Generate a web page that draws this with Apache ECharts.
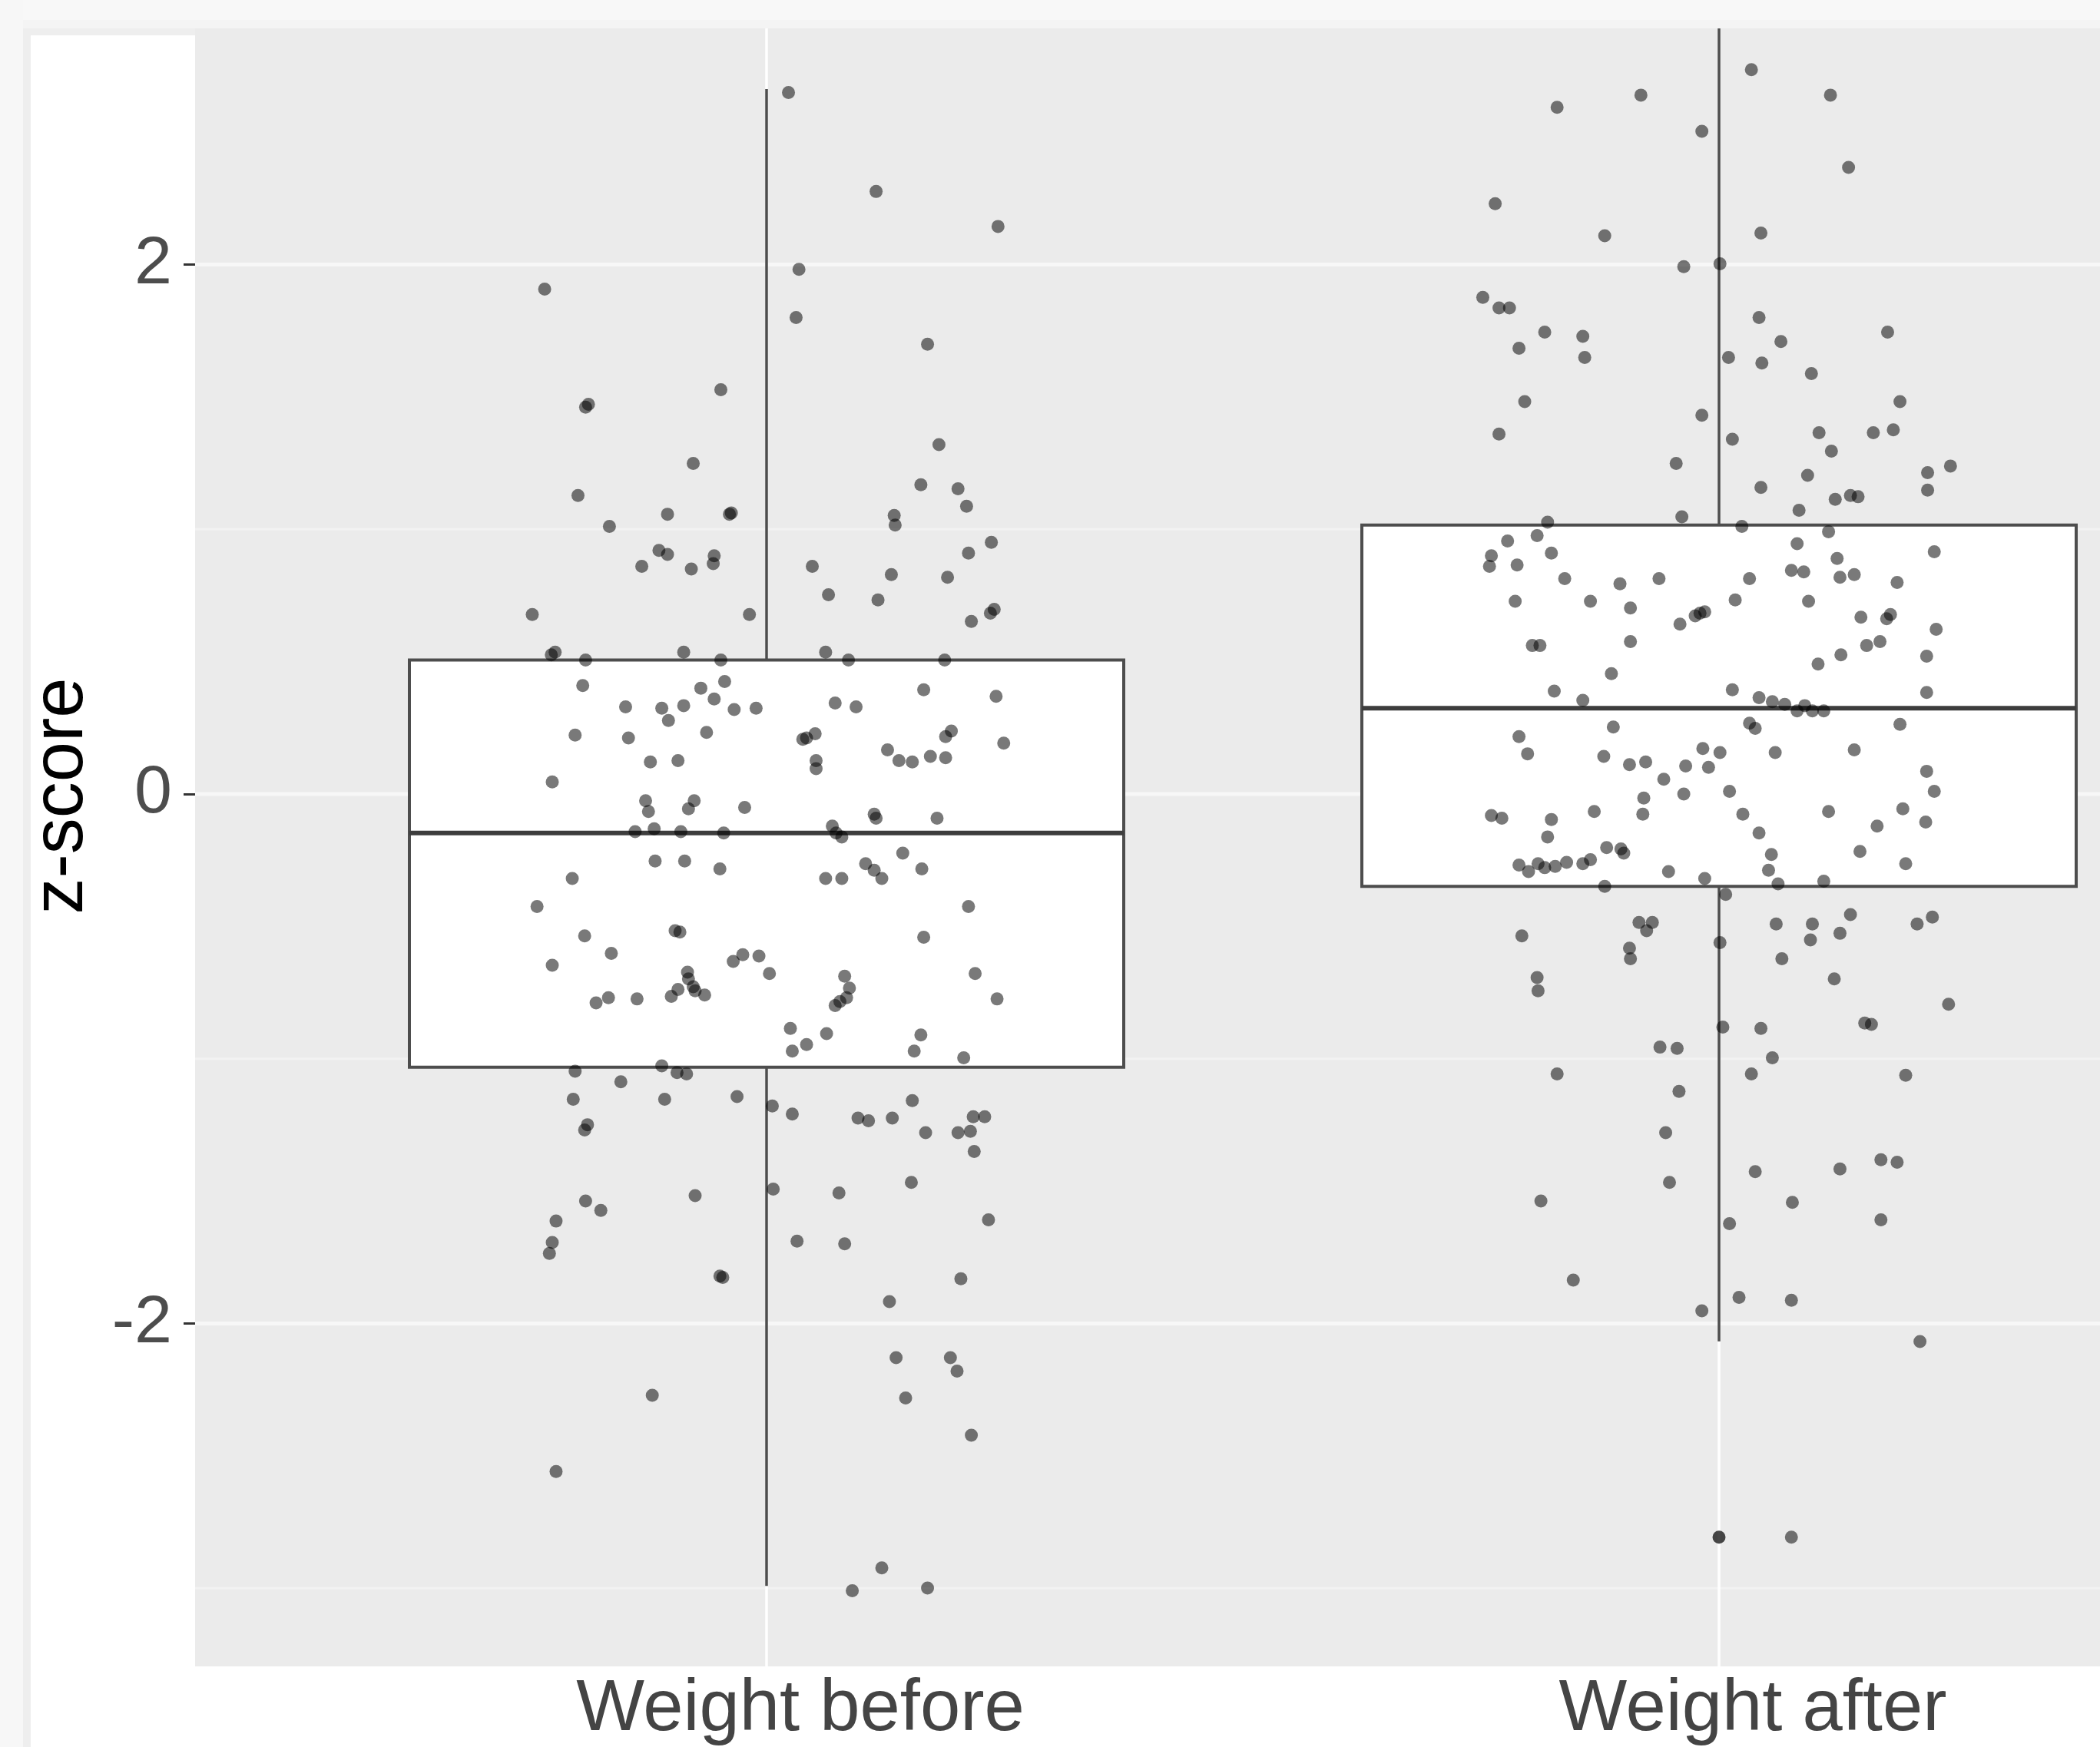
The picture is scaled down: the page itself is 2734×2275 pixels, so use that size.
<!DOCTYPE html>
<html><head><meta charset="utf-8">
<script src="https://cdn.jsdelivr.net/npm/echarts@6/dist/echarts.min.js"></script>
<style>html,body{margin:0;padding:0;background:#fff}#c{width:2734px;height:2275px}</style>
</head><body><div id="c"></div>
<script>
// ---------- data ----------
const categories = ['Weight before', 'Weight after'];
const categoryPositions = [1, 2];
const yMajorTicks = [-2, 0, 2];
const yMinorTicks = [-3, -1, 1];
// [center, lower whisker, Q1, median, Q3, upper whisker]
const boxBefore = [1, -2.991, -1.032, -0.147, 0.506, 2.663];
const boxAfter = [2, -2.067, -0.349, 0.324, 1.016, 2.95];
const outliers = [[2, -2.807]];
// jittered points [x, z-score]
const pointsBefore = [
[1.023,2.650],[1.115,2.276],[1.243,2.144],[1.034,1.982],[0.767,1.907],[1.031,1.800],[1.169,1.699],[0.952,1.527],
[0.813,1.472],[0.810,1.461],[1.181,1.320],[0.923,1.249],[1.162,1.168],[0.802,1.128],[1.201,1.153],[0.963,1.062],
[0.961,1.057],[0.896,1.057],[1.134,1.052],[1.210,1.087],[0.835,1.011],[1.135,1.016],[1.236,0.951],[0.887,0.920],
[0.896,0.905],[0.945,0.900],[0.869,0.860],[0.944,0.870],[0.921,0.850],[1.048,0.860],[1.212,0.910],[1.131,0.829],
[1.190,0.819],[1.065,0.753],[1.117,0.733],[0.754,0.678],[0.982,0.678],[1.239,0.698],[1.235,0.683],[1.215,0.652],
[0.778,0.536],[0.774,0.526],[0.913,0.536],[0.952,0.506],[1.062,0.536],[1.086,0.506],[1.187,0.506],[0.810,0.506],
[0.807,0.410],[0.931,0.400],[0.956,0.425],[1.165,0.394],[1.241,0.369],[0.852,0.329],[0.945,0.359],[0.890,0.324],
[0.913,0.334],[0.966,0.319],[0.989,0.324],[1.072,0.344],[1.094,0.329],[0.897,0.278],[1.038,0.207],[1.042,0.212],
[1.051,0.228],[1.194,0.238],[0.799,0.223],[0.855,0.212],[0.937,0.233],[1.188,0.217],[1.249,0.192],[1.127,0.167],
[1.139,0.126],[1.153,0.121],[1.172,0.142],[1.188,0.137],[0.878,0.121],[0.907,0.126],[1.052,0.126],[1.052,0.096],
[0.775,0.046],[0.873,-0.025],[0.924,-0.025],[0.918,-0.056],[0.876,-0.066],[0.977,-0.051],[1.113,-0.076],[1.115,-0.091],
[1.069,-0.121],[1.073,-0.147],[1.179,-0.091],[0.882,-0.131],[0.910,-0.142],[0.862,-0.142],[0.955,-0.147],[1.079,-0.162],
[0.883,-0.253],[0.914,-0.253],[0.951,-0.283],[1.104,-0.263],[1.113,-0.288],[1.121,-0.319],[1.143,-0.223],[1.163,-0.283],
[1.062,-0.319],[1.079,-0.319],[0.796,-0.319],[0.759,-0.425],[1.212,-0.425],[0.904,-0.516],[0.909,-0.521],[0.809,-0.536],
[1.165,-0.541],[0.837,-0.602],[0.775,-0.647],[0.975,-0.607],[0.992,-0.612],[0.965,-0.632],[1.003,-0.678],[1.082,-0.688],
[1.219,-0.678],[0.917,-0.673],[0.918,-0.698],[0.907,-0.738],[0.923,-0.728],[0.925,-0.743],[0.935,-0.759],[0.900,-0.764],
[0.864,-0.774],[1.087,-0.733],[1.084,-0.769],[1.077,-0.784],[1.072,-0.799],[0.821,-0.789],[0.834,-0.769],[1.242,-0.774],
[1.025,-0.885],[1.063,-0.905],[1.162,-0.910],[1.042,-0.946],[1.155,-0.971],[1.027,-0.971],[1.207,-0.996],[0.890,-1.027],
[0.906,-1.052],[0.916,-1.057],[0.799,-1.047],[0.847,-1.087],[0.969,-1.143],[0.797,-1.153],[1.006,-1.178],[1.027,-1.209],
[0.893,-1.153],[1.153,-1.158],[1.096,-1.224],[1.107,-1.234],[1.132,-1.224],[1.229,-1.219],[1.217,-1.219],[1.214,-1.274],
[1.167,-1.279],[1.201,-1.279],[0.812,-1.249],[0.809,-1.269],[1.218,-1.350],[1.007,-1.492],[1.076,-1.507],[1.152,-1.467],
[0.925,-1.517],[0.810,-1.537],[0.826,-1.573],[1.233,-1.608],[0.779,-1.613],[0.775,-1.694],[0.772,-1.735],[1.032,-1.689],
[1.082,-1.699],[0.951,-1.821],[0.954,-1.826],[1.204,-1.831],[1.129,-1.917],[0.880,-2.271],[1.136,-2.129],[1.193,-2.129],
[1.200,-2.180],[1.146,-2.281],[1.215,-2.422],[0.779,-2.559],[1.121,-2.923],[1.090,-3.009],[1.169,-2.999]
];
const pointsAfter = [
[2.034,2.736],[2.117,2.640],[1.918,2.640],[1.830,2.594],[1.982,2.503],[2.136,2.367],[1.765,2.230],[2.044,2.119],
[1.880,2.109],[1.963,1.992],[2.001,2.003],[1.752,1.876],[1.769,1.836],[1.780,1.836],[2.042,1.800],[1.817,1.745],
[1.857,1.729],[2.177,1.745],[1.790,1.684],[2.065,1.709],[1.859,1.649],[2.010,1.649],[2.045,1.628],[2.097,1.588],
[1.796,1.482],[2.190,1.482],[1.982,1.431],[1.769,1.360],[2.105,1.365],[2.162,1.365],[2.183,1.376],[2.014,1.340],
[2.118,1.295],[1.955,1.249],[2.093,1.204],[2.219,1.214],[2.243,1.239],[2.044,1.158],[2.219,1.148],[2.138,1.128],
[2.122,1.113],[2.146,1.123],[2.084,1.072],[1.961,1.047],[1.820,1.027],[2.024,1.011],[2.082,0.946],[2.115,0.991],
[1.809,0.976],[1.778,0.956],[1.761,0.900],[1.759,0.860],[1.824,0.910],[1.788,0.865],[2.124,0.890],[2.226,0.915],
[2.089,0.839],[2.142,0.829],[2.076,0.845],[2.127,0.819],[2.032,0.814],[2.187,0.799],[1.937,0.814],[1.896,0.794],
[1.838,0.814],[1.865,0.728],[1.786,0.728],[1.907,0.703],[1.980,0.683],[1.985,0.688],[1.975,0.673],[1.959,0.642],
[2.017,0.733],[2.094,0.728],[2.149,0.668],[2.180,0.678],[2.176,0.662],[2.228,0.622],[1.907,0.576],[1.804,0.561],
[1.812,0.561],[2.169,0.576],[2.155,0.561],[2.128,0.526],[2.104,0.491],[2.218,0.521],[1.887,0.455],[1.827,0.389],
[2.014,0.394],[2.218,0.384],[1.857,0.354],[2.042,0.364],[2.056,0.349],[2.069,0.339],[2.082,0.314],[2.098,0.314],
[2.110,0.314],[2.090,0.334],[1.889,0.253],[2.032,0.268],[2.038,0.248],[2.190,0.263],[1.790,0.217],[1.799,0.152],
[1.879,0.142],[1.906,0.111],[1.923,0.121],[1.965,0.106],[1.983,0.172],[2.001,0.157],[2.059,0.157],[2.142,0.167],
[2.218,0.086],[1.921,-0.015],[1.963,0.000],[2.011,0.010],[1.989,0.101],[1.942,0.056],[2.226,0.010],[1.761,-0.081],
[1.772,-0.091],[1.824,-0.096],[1.869,-0.066],[1.920,-0.076],[2.025,-0.076],[2.042,-0.147],[2.115,-0.066],[2.193,-0.056],
[2.166,-0.121],[2.217,-0.106],[1.820,-0.162],[1.790,-0.268],[1.810,-0.263],[1.800,-0.293],[1.817,-0.278],[1.828,-0.273],
[1.840,-0.258],[1.857,-0.263],[1.865,-0.248],[1.882,-0.202],[1.897,-0.207],[1.900,-0.223],[1.947,-0.293],[1.985,-0.319],
[2.055,-0.228],[2.052,-0.288],[2.148,-0.217],[2.196,-0.263],[1.880,-0.349],[2.007,-0.379],[2.062,-0.339],[2.110,-0.329],
[1.916,-0.485],[1.930,-0.485],[1.924,-0.516],[1.906,-0.582],[1.907,-0.622],[1.793,-0.536],[2.001,-0.561],[2.060,-0.491],
[2.098,-0.491],[2.138,-0.455],[2.096,-0.551],[2.127,-0.526],[2.066,-0.622],[2.224,-0.465],[2.208,-0.491],[1.809,-0.693],
[1.810,-0.743],[2.121,-0.698],[2.153,-0.865],[2.160,-0.870],[2.241,-0.794],[2.004,-0.880],[2.044,-0.885],[1.938,-0.956],
[1.956,-0.961],[2.056,-0.996],[1.830,-1.057],[2.034,-1.057],[2.196,-1.062],[1.958,-1.123],[1.944,-1.279],[1.948,-1.467],
[2.038,-1.426],[2.127,-1.416],[2.170,-1.381],[2.187,-1.391],[1.813,-1.537],[2.077,-1.542],[2.170,-1.608],[2.011,-1.623],
[1.847,-1.836],[1.982,-1.952],[2.021,-1.901],[2.076,-1.912],[2.211,-2.068],[2.076,-2.807]
];

// ---------- layout / style ----------
const X_MIN = 0.4, X_MAX = 2.4, Y_MIN = -3.295, Y_MAX = 2.892;
const BOX_WIDTH = 0.75;
const BOX_STROKE = '#4d4d4d';
const FONT = 'Liberation Sans, Arial, sans-serif';

const chart = echarts.init(document.getElementById('c'), null, {renderer: 'canvas'});

function renderHLine(style) {
  return function (params, api) {
    const cs = params.coordSys;
    const y = api.coord([X_MIN, api.value(1)])[1];
    return {type: 'line', shape: {x1: cs.x, y1: y, x2: cs.x + cs.width, y2: y}, style: style, silent: true};
  };
}
function renderVLine(style) {
  return function (params, api) {
    const cs = params.coordSys;
    const x = api.coord([api.value(0), Y_MIN])[0];
    return {type: 'line', shape: {x1: x, y1: cs.y, x2: x, y2: cs.y + cs.height}, style: style, silent: true};
  };
}
function renderBox(params, api) {
  const c = api.value(0), lo = api.value(1), q1 = api.value(2), md = api.value(3), q3 = api.value(4);
  const hi = Math.min(api.value(5), Y_MAX);
  const h = BOX_WIDTH / 2;
  const tl = api.coord([c - h, q3]), br = api.coord([c + h, q1]);
  const pHi = api.coord([c, hi]), pQ3 = api.coord([c, q3]), pQ1 = api.coord([c, q1]), pLo = api.coord([c, lo]);
  const mL = api.coord([c - h, md]), mR = api.coord([c + h, md]);
  const st = {stroke: BOX_STROKE, lineWidth: 3.5, fill: null};
  return {type: 'group', children: [
    {type: 'line', shape: {x1: pHi[0], y1: pHi[1], x2: pQ3[0], y2: pQ3[1]}, style: st},
    {type: 'line', shape: {x1: pQ1[0], y1: pQ1[1], x2: pLo[0], y2: pLo[1]}, style: st},
    {type: 'rect', shape: {x: tl[0], y: tl[1], width: br[0] - tl[0], height: br[1] - tl[1]},
      style: {fill: '#ffffff', stroke: BOX_STROKE, lineWidth: 4}},
    {type: 'line', shape: {x1: mL[0], y1: mL[1], x2: mR[0], y2: mR[1]}, style: {stroke: '#3d3d3d', lineWidth: 6}}
  ]};
}

const option = {
  backgroundColor: '#ffffff',
  animation: false,
  graphic: [
    {type: 'rect', left: 0, top: 0, shape: {width: 2734, height: 26}, style: {fill: '#f8f8f8'}, z: -10},
    {type: 'rect', left: 0, top: 26, shape: {width: 2734, height: 11}, style: {fill: '#f4f4f4'}, z: -10},
    {type: 'rect', left: 0, top: 37, shape: {width: 254, height: 9}, style: {fill: '#eeeeee'}, z: -10},
    {type: 'rect', left: 0, top: 0, shape: {width: 30, height: 2275}, style: {fill: '#f7f7f7'}, z: -10},
    {type: 'rect', left: 30, top: 37, shape: {width: 10, height: 2238}, style: {fill: '#eeeeee'}, z: -10}
  ],
  grid: {left: 254, right: 0, top: 37, bottom: 105, show: true, backgroundColor: '#ebebeb', borderWidth: 0,
    containLabel: false, outerBoundsMode: 'none'},
  xAxis: {
    type: 'value', min: X_MIN, max: X_MAX,
    axisLine: {show: false}, splitLine: {show: false},
    axisTick: {show: true, customValues: categoryPositions, length: 15, lineStyle: {color: '#333333', width: 3}},
    axisLabel: {customValues: categoryPositions, margin: 10, fontSize: 94, color: '#444444',
      fontFamily: FONT, padding: [0, 0, 0, 88],
      formatter: function (v) { const i = categoryPositions.indexOf(Math.round(v)); return i >= 0 ? categories[i] : ''; }}
  },
  yAxis: {
    type: 'value', min: Y_MIN, max: Y_MAX,
    name: 'z-score', nameLocation: 'middle', nameGap: 126,
    nameTextStyle: {fontSize: 94, color: '#000000', fontFamily: FONT, padding: [0, 0, 0, 134]},
    axisLine: {show: false}, splitLine: {show: false},
    axisTick: {show: true, customValues: yMajorTicks, length: 15, lineStyle: {color: '#333333', width: 3}},
    axisLabel: {customValues: yMajorTicks, margin: 30, fontSize: 88, color: '#4d4d4d',
      fontFamily: FONT,
      formatter: function (v) { return v < 0 ? '-' + Math.abs(v) : String(v); }}
  },
  series: [
    {type: 'custom', z: 1, silent: true, renderItem: renderHLine({stroke: '#f2f2f2', lineWidth: 3}),
      data: yMinorTicks.map(v => [X_MIN, v])},
    {type: 'custom', z: 1, silent: true, renderItem: renderHLine({stroke: '#f7f7f7', lineWidth: 5}),
      data: yMajorTicks.map(v => [X_MIN, v])},
    {type: 'custom', z: 1, silent: true, renderItem: renderVLine({stroke: '#ffffff', lineWidth: 3.5}),
      data: categoryPositions.map(v => [v, Y_MIN])},
    {type: 'custom', z: 2, silent: true, renderItem: renderBox, data: [boxBefore, boxAfter]},
    {type: 'scatter', z: 3, silent: true, symbolSize: 17, data: outliers,
      itemStyle: {color: '#1a1a1a'}},
    {type: 'scatter', z: 4, silent: true, symbolSize: 17, data: pointsBefore.concat(pointsAfter),
      itemStyle: {color: 'rgba(0,0,0,0.66)'}}
  ]
};
chart.setOption(option);
</script></body></html>
